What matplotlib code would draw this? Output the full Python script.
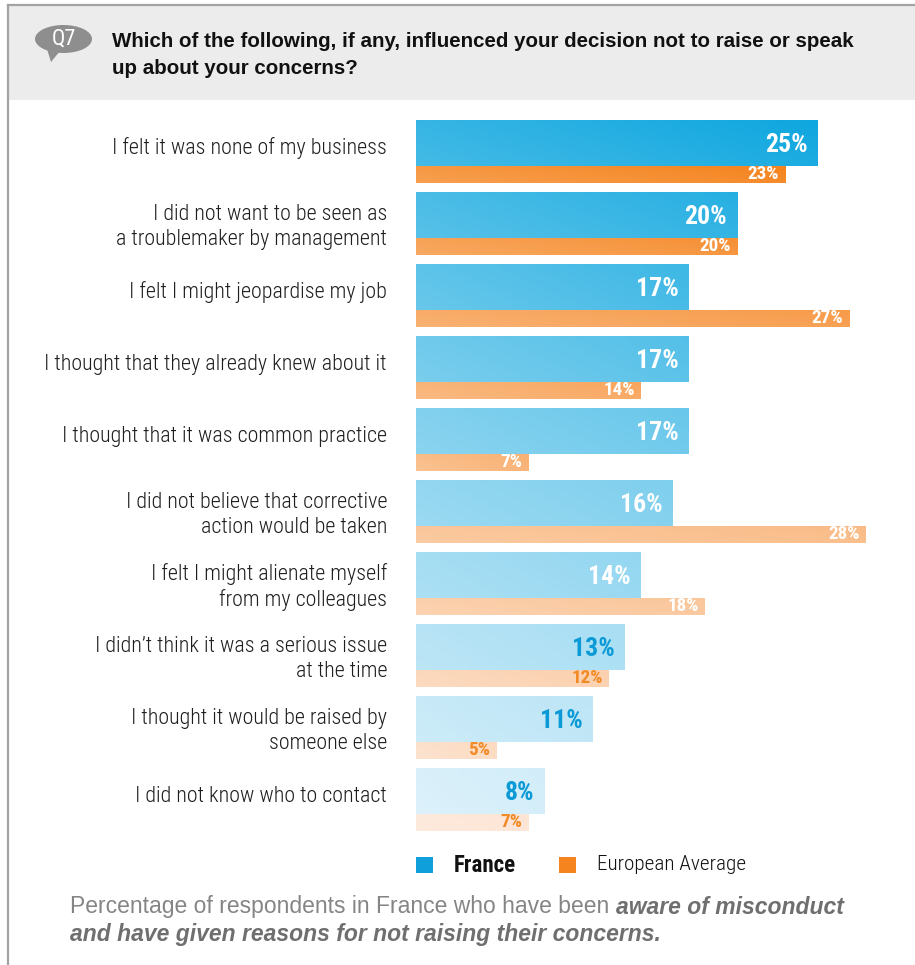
import numpy as np
import matplotlib
matplotlib.use("Agg")
import matplotlib.pyplot as plt
import matplotlib.colors as mcolors
from matplotlib import font_manager
from matplotlib.patches import Rectangle, Ellipse, Polygon
from matplotlib.transforms import offset_copy

# ---- data -------------------------------------------------------------
categories = [
    "I felt it was none of my business",
    "I did not want to be seen as\na troublemaker by management",
    "I felt I might jeopardise my job",
    "I thought that they already knew about it",
    "I thought that it was common practice",
    "I did not believe that corrective\naction would be taken",
    "I felt I might alienate myself\nfrom my colleagues",
    "I didn\u2019t think it was a serious issue\nat the time",
    "I thought it would be raised by\nsomeone else",
    "I did not know who to contact",
]
france = [25, 20, 17, 17, 17, 16, 14, 13, 11, 8]
europe = [23, 20, 27, 14, 7, 28, 18, 12, 5, 7]
series_names = ["France", "European Average"]
question_tag = "Q7"
question = ("Which of the following, if any, influenced your decision not to raise or speak\n"
            "up about your concerns?")
note_plain = "Percentage of respondents in France who have been "
note_bold_1 = "aware of misconduct"
note_bold_2 = "and have given reasons for not raising their concerns."

# ---- fonts ------------------------------------------------------------
available = {f.name for f in font_manager.fontManager.ttflist}


def pick(*names):
    for n in names:
        if n in available:
            return n
    return "DejaVu Sans"


NARROW = pick("Roboto Condensed", "Liberation Sans Narrow", "DejaVu Sans")
SANS = pick("Liberation Sans", "Arial", "DejaVu Sans")

# ---- figure in pixel units ---------------------------------------------
W, H = 915, 965
fig = plt.figure(figsize=(W / 100, H / 100), dpi=100)
fig.patch.set_facecolor("white")


def fx(x):
    return x / W


def fy(y):
    return 1 - y / H


# header band and frame
fig.patches.append(Rectangle((fx(8), fy(100)), fx(915) - fx(8), fy(5) - fy(100),
                             transform=fig.transFigure, facecolor="#ececec",
                             edgecolor="none", zorder=0))
fig.add_artist(plt.Line2D([fx(8), fx(915)], [fy(5), fy(5)], transform=fig.transFigure,
                          color="#a3a3a3", lw=1.6))
fig.add_artist(plt.Line2D([fx(8), fx(8)], [fy(5), fy(965)], transform=fig.transFigure,
                          color="#a3a3a3", lw=1.6))

# speech bubble with the question number
fig.patches.append(Ellipse((fx(63.5), fy(39)), 57 / W, 28 / H, transform=fig.transFigure,
                           facecolor="#8e8e8e", edgecolor="none"))
fig.patches.append(Polygon([(fx(47), fy(49)), (fx(60), fy(51)), (fx(51), fy(62))],
                           closed=True, transform=fig.transFigure,
                           facecolor="#8e8e8e", edgecolor="none"))
fig.text(fx(63.5), fy(39.5), question_tag, color="white", fontsize=16,
         family=NARROW, fontweight="normal", ha="center", va="center")
fig.text(fx(112), fy(55), question, color="#111111", fontsize=14.8, family=SANS,
         fontweight="bold", ha="left", va="center", linespacing=1.55)

# ---- bars ---------------------------------------------------------------
PX_PER_PCT = 16.05
ROW = 72.0
top_px, n = 120, len(categories)
ax = fig.add_axes([fx(416), fy(top_px + ROW * n), 30 * PX_PER_PCT / W, ROW * n / H])
ax.set_xlim(0, 30)
ax.set_ylim(n, 0)
ax.axis("off")

blue_h, orange_h = 46 / ROW, 17 / ROW
blue_dark, blue_light = np.array(mcolors.to_rgb("#0fa7df")), np.array(mcolors.to_rgb("#d2edf9"))
orng_dark, orng_light = np.array(mcolors.to_rgb("#f5841e")), np.array(mcolors.to_rgb("#fde5d5"))
steps = np.linspace(0, 1, n) ** 0.95
blue_cols = [tuple(blue_dark + (blue_light - blue_dark) * s) for s in steps]
orng_cols = [tuple(orng_dark + (orng_light - orng_dark) * s) for s in steps]

ypos = np.arange(n)
b_bars = ax.barh(ypos, france, height=blue_h, align="edge", color=blue_cols, lw=0)
o_bars = ax.barh(ypos + blue_h, europe, height=orange_h, align="edge", color=orng_cols, lw=0)


def shade(bar, base):
    """Soft diagonal sheen: lighter at the lower left, full colour at the right."""
    x0, y0 = bar.get_x(), bar.get_y()
    w, h = bar.get_width(), bar.get_height()
    gx = np.linspace(0, 1, 80)[None, :]
    gy = np.linspace(0, 1, 8)[:, None]
    t = np.clip(0.75 * (1 - gx) + 0.25 * gy, 0, 1) * 0.22
    base = np.array(base)
    img = base[None, None, :] * (1 - t[..., None]) + t[..., None]
    im = ax.imshow(img, extent=(x0, x0 + w, y0 + h, y0), aspect="auto",
                   interpolation="bilinear", zorder=bar.get_zorder() + 0.1, origin="upper")
    im.set_clip_path(bar)


for bar, c in zip(b_bars, blue_cols):
    shade(bar, c)
for bar, c in zip(o_bars, orng_cols):
    shade(bar, c)
ax.set_xlim(0, 30)
ax.set_ylim(n, 0)

tr_b = offset_copy(ax.transData, fig=fig, x=-10, y=0, units="dots")
tr_o = offset_copy(ax.transData, fig=fig, x=-6, y=0, units="dots")
for i, (fv, ev) in enumerate(zip(france, europe)):
    dark_text = i >= 7
    ax.text(fv, i + 25 / ROW, f"{fv}%", transform=tr_b, ha="right", va="center",
            fontsize=18.5, fontweight="bold", family=NARROW,
            color="#0b9ad6" if dark_text else "white", zorder=5)
    ax.text(ev, i + blue_h + orange_h / 2 - 0.5 / ROW, f"{ev}%", transform=tr_o,
            ha="right", va="center", fontsize=13.8, fontweight="bold", family=NARROW,
            color="#f28a28" if dark_text else "white", zorder=5)

# category labels
for i, lab in enumerate(categories):
    off = 35 if "\n" in lab else 28.5
    fig.text(fx(387), fy(top_px + ROW * i + off), lab, ha="right", va="center",
             fontsize=15.8, family=NARROW, fontweight="light", color="#1e1e1e",
             linespacing=1.27)

# ---- legend -------------------------------------------------------------
for x0, c, name, wt, tx, fs in [(416, "#0fa0dc", series_names[0], "bold", 454, 16.5),
                                (559, "#f5841e", series_names[1], "light", 597, 15.3)]:
    fig.patches.append(Rectangle((fx(x0), fy(873)), 17 / W, 16 / H,
                                 transform=fig.transFigure, facecolor=c, edgecolor="none"))
    fig.text(fx(tx), fy(865), name, ha="left", va="center", fontsize=fs,
             family=NARROW, fontweight=wt, color="#111111")

# ---- note ---------------------------------------------------------------
NOTE_FS = 16.5
t1 = fig.text(fx(70), fy(907), note_plain, ha="left", va="center", fontsize=NOTE_FS,
              family=SANS, color="#858585")
fig.canvas.draw()
bb = t1.get_window_extent()
fig.text(bb.x1 / W, bb.y0 / H, note_bold_1, fontsize=NOTE_FS, family=SANS,
         color="#6f6f6f", fontweight="bold", style="italic", ha="left", va="bottom")
fig.text(fx(70), fy(934), note_bold_2, ha="left", va="center", fontsize=NOTE_FS,
         family=SANS, color="#6f6f6f", fontweight="bold", style="italic")

fig.savefig("out.png", dpi=100, facecolor="white")
